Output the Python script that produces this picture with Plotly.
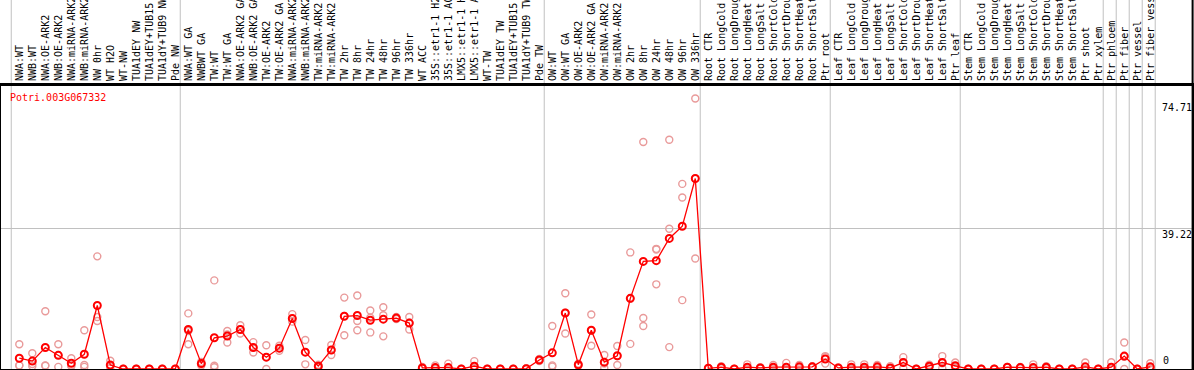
import plotly.graph_objects as go

title_text = "Potri.003G067332"

labels = [
    "NWA:WT", "NWB:WT", "NWA:OE-ARK2", "NWB:OE-ARK2", "NWA:miRNA-ARK2", "NWB:miRNA-ARK2",
    "NW 0hr", "WT H2O", "WT-NW", "TUA1dEY NW", "TUA1dEY+TUB15 NW", "TUA1dY+TUB9 NW", "Pde NW",
    "NWA:WT GA", "NWBWT GA", "TW:WT", "TW:WT GA", "NWA:OE-ARK2 GA", "NWB:OE-ARK2 GA",
    "TW:OE-ARK2", "TW:OE-ARK2 GA", "NWA:miRNA-ARK2 GA", "NWB:miRNA-ARK2 GA", "TW:miRNA-ARK2",
    "TW:miRNA-ARK2 GA", "TW 2hr", "TW 8hr", "TW 24hr", "TW 48hr", "TW 96hr", "TW 336hr",
    "WT ACC", "35S::etr1-1 H2O", "35S::etr1-1 ACC", "LMX5::etr1-1 H2O", "LMX5::etr1-1 ACC",
    "WT-TW", "TUA1dEY TW", "TUA1dEY+TUB15 TW", "TUA1dY+TUB9 TW", "Pde TW",
    "OW:WT", "OW:WT GA", "OW:OE-ARK2", "OW:OE-ARK2 GA", "OW:miRNA-ARK2", "OW:miRNA-ARK2 GA",
    "OW 2hr", "OW 8hr", "OW 24hr", "OW 48hr", "OW 96hr", "OW 336hr",
    "Root CTR", "Root LongCold", "Root LongDrought", "Root LongHeat", "Root LongSalt",
    "Root ShortCold", "Root ShortDrought", "Root ShortHeat", "Root ShortSalt", "Ptr root",
    "Leaf CTR", "Leaf LongCold", "Leaf LongDrought", "Leaf LongHeat", "Leaf LongSalt",
    "Leaf ShortCold", "Leaf ShortDrought", "Leaf ShortHeat", "Leaf ShortSalt", "Ptr leaf",
    "Stem CTR", "Stem LongCold", "Stem LongDrought", "Stem LongHeat", "Stem LongSalt",
    "Stem ShortCold", "Stem ShortDrought", "Stem ShortHeat", "Stem ShortSalt", "Ptr shoot",
    "Ptr xylem", "Ptr phloem", "Ptr fiber", "Ptr vessel", "Ptr fiber vessel",
]

mean_vals = [
    3.0, 2.2, 6.0, 3.8, 1.6, 4.1, 17.7, 1.1, 0, 0, 0, 0, 0,
    11.0, 1.5, 8.7, 9.2, 11.0, 6.0, 3.3, 5.8, 14.1, 4.7, 0.8, 5.3, 14.7, 14.9,
    13.6, 13.9, 14.2, 12.8, 0.3, 0.4, 0.4, 0, 0.8, 0, 0, 0, 0.1, 2.5,
    4.5, 15.6, 1.2, 10.8, 1.9, 3.7, 19.7, 30.0, 30.2, 36.4, 39.8, 53.1,
    0.2, 0.5, 0, 0.5, 0.3, 0.5, 0.5, 0.6, 0.6, 2.8,
    0.3, 0.5, 0.5, 0.6, 0.3, 1.8, 0, 0.8, 1.8, 0.9,
    0, 0, 0, 0.5, 0.4, 0.4, 0.5, 0, 0, 0.6, 0,
    0.5, 3.6, 0, 0.6,
]

rep_a = [
    6.9, 4.4, 16.1, 6.9, 3.0, 10.8, 31.4, 2.3, 0, 0, 0, 0, 0,
    15.5, 2.0, 24.7, 10.6, 12.2, 7.5, 6.6, 6.5, 15.3, 8.1, 1.2, 6.7, 19.9, 20.5,
    16.3, 17.2, 14.5, 14.5, 0.6, 1.0, 1.5, 0, 2.2, 0, 0, 0, 0.2, 2.8,
    12.0, 21.1, 1.5, 15.2, 3.9, 6.4, 32.5, 63.3, 33.5, 63.9, 51.6, 75.4,
    0.3, 0.8, 0, 1.3, 0.5, 1.1, 1.7, 1.1, 0.8, 3.6,
    0.4, 1.3, 1.3, 1.1, 0.8, 3.3, 0, 1.2, 3.6, 1.8,
    0, 0, 0, 0.6, 0.6, 1.3, 0.8, 0, 0, 1.8, 0,
    1.9, 7.4, 0, 1.6,
]

rep_b = [
    1.0, 1.4, 1.0, 3.9, 1.0, 1.1, 14.5, 0.8, 0, 0, 0, 0, 0,
    10.6, 1.5, 0.9, 9.6, 11.0, 6.0, 3.3, 5.8, 14.1, 4.7, 0.8, 5.3, 14.8, 13.4,
    14.3, 15.0, 14.2, 12.9, 0.2, 0.2, 0, 0, 0.2, 0, 0, 0, 0.1, 2.5,
    1.0, 15.7, 1.2, 10.7, 1.5, 3.6, 19.6, 14.2, 33.3, 39.1, 47.8, 53.1,
    0.2, 0.5, 0, 0.2, 0.3, 0.3, 0, 0.5, 0.6, 3.3,
    0.3, 0.2, 0.2, 0.5, 0.1, 1.9, 0, 0.8, 1.6, 0.6,
    0, 0, 0, 0.5, 0.4, 0, 0.5, 0, 0, 0, 0,
    0, 3.4, 0, 0.2,
]

rep_c = [
    1.0, 0.8, 0.9, 0.6, 0.8, 0.6, 13.4, 0.2, 0, 0, 0, 0, 0,
    6.9, 1.0, 0.5, 7.4, 9.9, 4.6, 0, 5.1, 13.2, 1.3, 0.4, 3.9, 9.4, 10.8,
    10.2, 9.1, 13.9, 11.0, 0.1, 0, 0, 0, 0, 0, 0, 0, 0, 2.2,
    0.7, 9.9, 0.9, 6.5, 0.3, 1.1, 7.0, 12.0, 23.6, 6.1, 19.2, 30.8,
    0.1, 0.2, 0, 0, 0.1, 0.1, 0, 0.2, 0.4, 1.5,
    0.2, 0, 0, 0.2, 0, 0.2, 0, 0.4, 0.2, 0.3,
    0, 0, 0, 0.4, 0.2, 0, 0.2, 0, 0, 0, 0,
    0, 0, 0, 0,
]

group_starts = [0, 13, 41, 53, 63, 73, 84, 85, 86, 87, 88]
y_tick_vals = [74.71, 39.22, 0]
y_tick_text = ["74.71", "39.22", "0"]

xs = list(range(len(labels)))
mono = "DejaVu Sans Mono"

fig = go.Figure()

rep_x = xs * 3
rep_y = rep_a + rep_b + rep_c
fig.add_trace(go.Scatter(
    x=rep_x, y=rep_y, mode="markers",
    marker=dict(symbol="circle-open", size=7, color="#e99a9a", line=dict(width=1.4, color="#e99a9a")),
    hoverinfo="skip", showlegend=False,
))
fig.add_trace(go.Scatter(
    x=xs, y=mean_vals, mode="lines+markers",
    line=dict(color="#ff0000", width=1.3),
    marker=dict(symbol="circle-open", size=7, color="#ff0000", line=dict(width=2, color="#ff0000")),
    showlegend=False,
))

shapes = []
for g in group_starts:
    shapes.append(dict(type="line", xref="x", yref="paper", x0=g - 0.62, x1=g - 0.62,
                       y0=0, y1=1.32, line=dict(color="#c0c0c0", width=1), layer="below"))
# top rule extending full width, right border extending up
shapes.append(dict(type="line", xref="paper", yref="paper", x0=-0.01, x1=1.01, y0=1, y1=1,
                   line=dict(color="black", width=2)))
shapes.append(dict(type="line", xref="paper", yref="paper", x0=1.0005, x1=1.0005, y0=0, y1=1.32,
                   line=dict(color="black", width=2)))

annotations = [
    dict(text=title_text, xref="paper", yref="paper", x=0.006, y=0.995, xanchor="left", yanchor="top",
         yshift=-4, showarrow=False, font=dict(family=mono, size=10, color="#ff0000")),
]
for v, t in zip(y_tick_vals, y_tick_text):
    if v == 0:
        annotations.append(dict(text=t, xref="x", yref="y", x=87.8, y=v, xanchor="left", yanchor="bottom",
                                yshift=1, showarrow=False, font=dict(family=mono, size=10, color="black")))
    else:
        annotations.append(dict(text=t, xref="x", yref="y", x=87.75, y=v, xanchor="left", yanchor="top",
                                yshift=1, showarrow=False, font=dict(family=mono, size=10, color="black")))

fig.update_layout(
    width=1194, height=370,
    margin=dict(l=1, r=2, t=85, b=1),
    paper_bgcolor="white", plot_bgcolor="white",
    shapes=shapes, annotations=annotations,
    xaxis=dict(
        side="top", range=[-1.408, 90.21], tickmode="array", tickvals=xs, ticktext=labels,
        tickangle=-90, ticks="", showgrid=False, zeroline=False, automargin=False,
        showline=True, mirror=True, linecolor="black", linewidth=2,
        tickfont=dict(family=mono, size=10, color="black"),
    ),
    yaxis=dict(
        range=[0, 79.17], tickmode="array", tickvals=[39.22], showticklabels=False, ticks="",
        showgrid=True, gridcolor="#c0c0c0", gridwidth=1, zeroline=False, automargin=False,
        showline=True, mirror=True, linecolor="black", linewidth=2,
    ),
)

fig.write_html(
    "out.html",
    config={"displayModeBar": False},
    post_script="document.body.style.margin='0';document.body.style.padding='0';"
                "document.documentElement.style.overflow='hidden';document.body.style.overflow='hidden';",
)
